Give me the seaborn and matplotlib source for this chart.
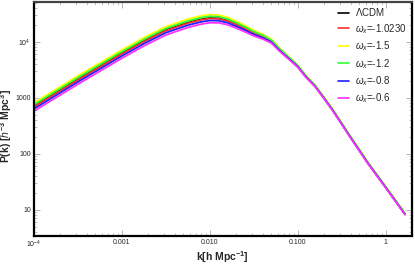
import numpy as np
import pandas as pd
import matplotlib
matplotlib.use("Agg")
import matplotlib.pyplot as plt
import matplotlib.ticker as mticker
import seaborn as sns

# wavenumbers k [h/Mpc]
k = [1e-4, 3.16e-4, 1e-3, 1.78e-3, 3.16e-3, 5.62e-3, 7.94e-3, 0.01, 0.0126,
     0.0158, 0.02, 0.0251, 0.0316, 0.0398, 0.0501, 0.0631, 0.0794, 0.1,
     0.126, 0.158, 0.2, 0.251, 0.398, 0.631, 1.0, 1.66]

# P(k) for each model
p_lcdm = [698, 2118, 6170, 10230, 16070, 21880, 25120, 26550, 26300, 24100,
          20650, 17500, 14490, 12530, 10380, 7130, 5160, 3700, 2355, 1630,
          991, 604, 200, 68.4, 25.5, 8.41]
p_w1023 = [682, 2070, 6030, 10000, 15700, 21380, 24550, 25940, 25700, 23600,
           20280, 17220, 14290, 12390, 10280, 7080, 5130, 3680, 2340, 1620,
           989, 603, 200, 68.2, 25.4, 8.4]
p_w15 = [805, 2443, 7110, 11800, 18540, 25230, 28970, 30480, 30060, 27480,
         23390, 19590, 16030, 13650, 11120, 7550, 5410, 3850, 2430, 1675,
         1019, 619, 205, 70.1, 26.1, 8.63]
p_w12 = [748, 2270, 6610, 10960, 17220, 23440, 26920, 28440, 28050, 25650,
         21930, 18490, 15240, 13060, 10740, 7350, 5280, 3780, 2390, 1650,
         1005, 612, 203, 69.3, 25.8, 8.53]
p_w08 = [628, 1905, 5550, 9200, 14450, 19680, 22590, 23930, 23770, 21930,
         18920, 16180, 13520, 11830, 9910, 6870, 5000, 3610, 2300, 1596,
         975, 594, 197, 67.3, 25.1, 8.28]
p_w06 = [571, 1734, 5050, 8375, 13150, 17910, 20560, 21830, 21780, 20180,
         17540, 15100, 12740, 11250, 9510, 6640, 4860, 3520, 2260, 1570,
         959, 586, 194, 66.4, 24.7, 8.17]

labels = [r"$\Lambda$CDM", r"$\omega_x$=-1.0230", r"$\omega_x$=-1.5",
          r"$\omega_x$=-1.2", r"$\omega_x$=-0.8", r"$\omega_x$=-0.6"]
series = [p_lcdm, p_w1023, p_w15, p_w12, p_w08, p_w06]
colors = ["black", "#ff3030", "#ffff00", "#30ff30", "#2020ff", "#ff30ff"]

df = pd.concat(
    [pd.DataFrame({"k": k, "P": p, "model": lab}) for p, lab in zip(series, labels)],
    ignore_index=True,
)

sns.set_style("ticks")
plt.rcParams["font.family"] = ["Liberation Sans", "DejaVu Sans"]
plt.rcParams["mathtext.fontset"] = "custom"
plt.rcParams["mathtext.rm"] = "Liberation Sans"
plt.rcParams["mathtext.it"] = "Liberation Sans:italic"
plt.rcParams["mathtext.bf"] = "Liberation Sans:bold"

fig = plt.figure(figsize=(4.15, 2.66), dpi=100)
ax = fig.add_axes([0.081, 0.113, 0.912, 0.879])

sns.lineplot(data=df, x="k", y="P", hue="model", hue_order=labels,
             palette=colors, estimator=None, sort=False, linewidth=1.3,
             ax=ax, legend=False)

ax.set_xscale("log")
ax.set_yscale("log")
ax.set_xlim(1e-4, 2.0)
ax.set_ylim(3.4, 51000)

ax.set_xticks([1e-4, 1e-3, 1e-2, 1e-1, 1])
ax.set_xticklabels([r"10$^{-4}$", "0.001", "0.010", "0.100", "1"])
ax.set_yticks([10, 100, 1000, 1e4])
ax.set_yticklabels(["10", "100", "1000", r"10$^{4}$"])
ax.xaxis.set_minor_locator(mticker.LogLocator(base=10, subs=np.arange(2, 10), numticks=20))
ax.yaxis.set_minor_locator(mticker.LogLocator(base=10, subs=np.arange(2, 10), numticks=20))
ax.xaxis.set_minor_formatter(mticker.NullFormatter())
ax.yaxis.set_minor_formatter(mticker.NullFormatter())

ax.tick_params(which="both", direction="in", top=True, right=True,
               color="#aaaaaa", labelsize=5, pad=2)
ax.tick_params(which="major", length=4, width=0.6)
ax.tick_params(which="minor", length=2, width=0.5)

for side in ["left", "bottom", "right"]:
    ax.spines[side].set_linewidth(1.6)
    ax.spines[side].set_color("black")
ax.spines["top"].set_linewidth(1.6)
ax.spines["top"].set_color("#444444")

ax.set_xlabel(r"k[h Mpc$^{\mathbf{-1}}$]", fontsize=7.5, fontweight="bold")
ax.set_ylabel(r"P(k) [$h^{\mathbf{-3}}$ Mpc$^{\mathbf{3}}$]", fontsize=7.5, fontweight="bold")
ax.xaxis.set_label_coords(0.5, -0.055)
ax.yaxis.set_label_coords(-0.051, 0.47)

handles = [plt.Line2D([], [], color=c, lw=1.2) for c in colors]
ax.legend(handles, labels, loc="upper right", frameon=False, fontsize=7,
          handlelength=1.1, handletextpad=0.6, labelspacing=0.38,
          borderaxespad=0.0, bbox_to_anchor=(0.995, 1.0))

fig.savefig("out.png", dpi=100)
